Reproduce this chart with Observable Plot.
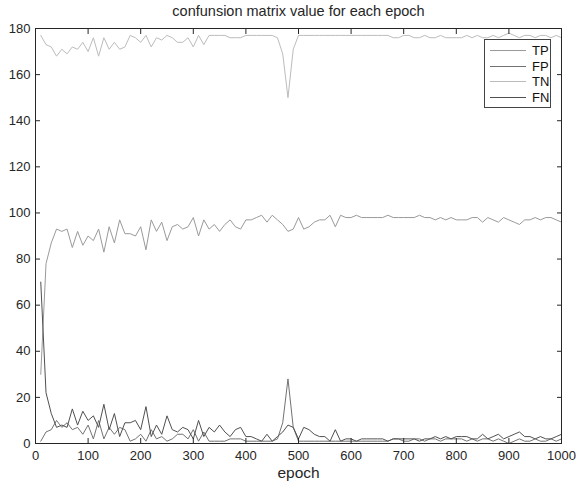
<!DOCTYPE html>
<html><head><meta charset="utf-8">
<script src="https://cdn.jsdelivr.net/npm/d3@7"></script>
<script src="https://cdn.jsdelivr.net/npm/@observablehq/plot@0.6"></script>
<style>
body{margin:0;background:#fff;font-family:"Liberation Sans",Arial,sans-serif;}
#wrap{position:relative;width:576px;height:485px;}
#legend{position:absolute;left:484px;top:39px;width:67px;height:69px;border:1px solid #444;background:#fff;box-sizing:border-box;padding-top:3px;}
.row{display:flex;align-items:center;height:15.6px;font-size:13px;color:#111;}
.sw{width:36px;height:0;margin-left:5px;margin-right:6px;border-top:1px solid;}
</style></head><body><div id="wrap"></div>
<script>
const title = "confunsion matrix value for each epoch";
const xLabel = "epoch";
const series = ["TP", "FP", "TN", "FN"];
const colors = ["#9a9a9a", "#727272", "#bcbcbc", "#505050"];
const xTicks = [0,100,200,300,400,500,600,700,800,900,1000];
const yTicks = [0,20,40,60,80,100,120,140,160,180];
const epochs = [10,20,30,40,50,60,70,80,90,100,110,120,130,140,150,160,170,180,190,200,
210,220,230,240,250,260,270,280,290,300,310,320,330,340,350,360,370,380,390,400,
410,420,430,440,450,460,470,480,490,500,510,520,530,540,550,560,570,580,590,600,
610,620,630,640,650,660,670,680,690,700,710,720,730,740,750,760,770,780,790,800,
810,820,830,840,850,860,870,880,890,900,910,920,930,940,950,960,970,980,990,1000];
const TP = [30,78,87,93,92,93,85,92,86,90, 88,93,83,94,87,97,91,91,90,94,
84,97,92,96,88,94,95,93,94,98, 90,97,93,95,92,95,97,94,93,97,
97,98,99,96,99,97,95,92,93,98, 93,94,96,97,97,99,94,99,98,98,
99,98,98,98,98,98,99,98,98,98, 98,98,99,98,98,97,98,97,98,97,
97,97,98,98,96,98,97,96,98,97, 96,95,97,97,98,97,98,98,97,96];
const FP = [1,5,6,10,7,9,6,7,4,8, 2,10,2,7,4,7,6,1,2,4,
1,6,2,3,1,2,4,4,2,6, 1,5,1,1,1,1,2,2,2,1,
1,1,1,1,1,2,9,28,7,1, 1,1,1,1,1,1,1,1,1,1,
1,1,1,1,1,1,1,2,2,1, 1,2,2,1,2,2,1,2,2,2,
2,1,2,1,2,2,1,2,1,0, 1,2,1,1,2,1,1,2,1,2];
const TN = [177,173,172,168,171,169,172,171,174,170, 176,168,176,171,174,171,172,177,176,174,
177,172,176,175,177,176,174,174,176,172, 177,173,177,177,177,177,176,176,176,177,
177,177,177,177,177,176,169,150,171,177, 177,177,177,177,177,177,177,177,177,177,
177,177,177,177,177,177,177,176,176,177, 177,176,176,177,176,176,177,176,176,176,
176,177,176,177,176,176,177,176,177,178, 177,176,177,177,176,177,177,176,177,176];
const FN = [70,22,13,7,8,7,15,8,14,10, 12,7,17,6,13,3,9,9,10,6,
16,3,8,4,12,6,5,7,6,2, 10,3,7,5,8,5,3,6,7,3,
3,2,1,4,1,3,5,8,7,2, 7,6,4,3,3,1,6,1,2,2,
1,2,2,2,2,2,1,2,2,2, 2,2,1,2,2,3,2,3,2,3,
3,3,2,2,4,2,3,4,2,3, 4,5,3,3,2,3,2,2,3,4];
const values = [TP, FP, TN, FN];

const rows = [];
series.forEach((s, i) => values[i].forEach((v, j) => rows.push({epoch: epochs[j], value: v, series: s})));

const ink = "#262626";
const blank = () => "";
const plain = d3.format("d");
const chart = Plot.plot({
  width: 576, height: 485,
  marginLeft: 35, marginRight: 15, marginTop: 28, marginBottom: 42,
  x: {domain: [0, 1000]},
  y: {domain: [0, 180]},
  color: {domain: series, range: colors},
  style: {fontFamily: "'Liberation Sans', Arial, sans-serif", fontSize: "13px", color: ink, background: "#fff", overflow: "visible"},
  marks: [
    Plot.line(rows, {x: "epoch", y: "value", z: "series", stroke: "series", strokeWidth: 1}),
    Plot.frame({stroke: ink}),
    Plot.axisX(xTicks, {anchor: "bottom", tickSize: -5, tickFormat: blank, label: null, stroke: ink}),
    Plot.axisX(xTicks, {anchor: "top", tickSize: -5, tickFormat: blank, label: null, stroke: ink}),
    Plot.axisX(xTicks, {anchor: "bottom", tickSize: 0, tickPadding: 7, tickFormat: plain, label: null, fill: ink}),
    Plot.axisY(yTicks, {anchor: "left", tickSize: -5, tickFormat: blank, label: null, stroke: ink}),
    Plot.axisY(yTicks, {anchor: "right", tickSize: -5, tickFormat: blank, label: null, stroke: ink}),
    Plot.axisY(yTicks, {anchor: "left", tickSize: 0, tickPadding: 5, tickFormat: plain, label: null, fill: ink}),
    Plot.text([title], {frameAnchor: "top", lineAnchor: "middle", dy: -17, fontSize: 14.5, fill: ink}),
    Plot.text([xLabel], {frameAnchor: "bottom", lineAnchor: "middle", dy: 30, fontSize: 15.5, fill: ink})
  ]
});
const wrap = document.getElementById("wrap");
wrap.appendChild(chart);
const legend = document.createElement("div");
legend.id = "legend";
series.forEach((s, i) => {
  const r = document.createElement("div"); r.className = "row";
  const sw = document.createElement("span"); sw.className = "sw"; sw.style.borderTopColor = colors[i];
  const t = document.createElement("span"); t.textContent = s;
  r.appendChild(sw); r.appendChild(t); legend.appendChild(r);
});
wrap.appendChild(legend);
</script></body></html>
